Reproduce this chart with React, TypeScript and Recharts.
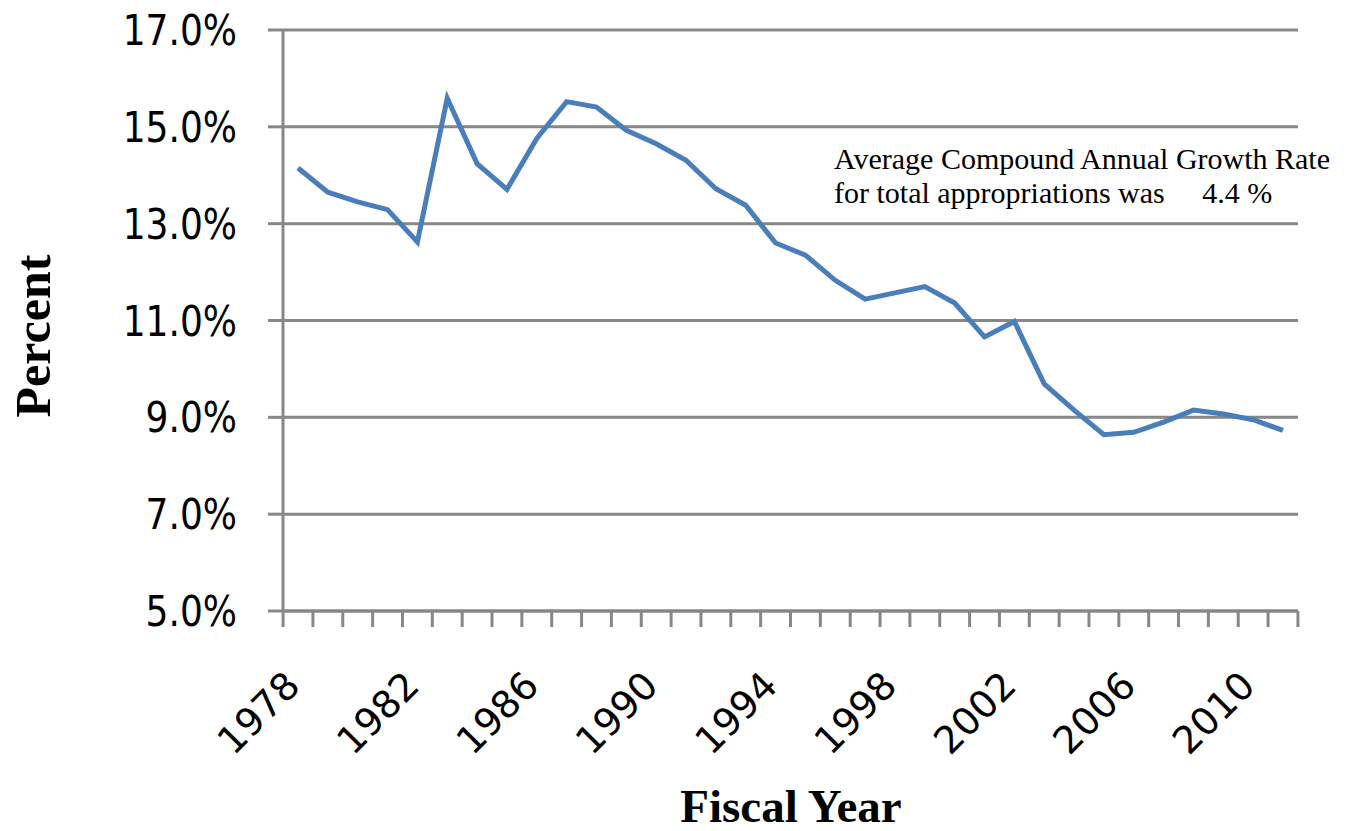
import { LineChart, Line, XAxis, YAxis, CartesianGrid } from "recharts";

const years = [
  "1978", "1979", "1980", "1981", "1982", "1983", "1984", "1985", "1986", "1987",
  "1988", "1989", "1990", "1991", "1992", "1993", "1994", "1995", "1996", "1997",
  "1998", "1999", "2000", "2001", "2002", "2003", "2004", "2005", "2006", "2007",
  "2008", "2009", "2010", "2011",
];
const percent = [
  14.15, 13.65, 13.45, 13.29, 12.62, 15.59, 14.24, 13.71, 14.76, 15.52,
  15.41, 14.93, 14.65, 14.31, 13.72, 13.38, 12.6, 12.35, 11.83, 11.44,
  11.57, 11.7, 11.36, 10.66, 10.98, 9.69, 9.15, 8.64, 8.69, 8.9,
  9.15, 9.07, 8.95, 8.73,
];
const yTicks = [5, 7, 9, 11, 13, 15, 17];
const noteLines = [
  "Average Compound Annual Growth Rate",
  "for total appropriations was     4.4 %",
];

const data = years.map((year, i) => ({ year, value: percent[i] }));

const W = 1369;
const H = 831;
const LEFT = 283;
const RIGHT = 71;
const PAD = 15;
const STEP = (W - LEFT - RIGHT - 2 * PAD) / (years.length - 1);
const GRAY = "#878787";
const SANS = "'DejaVu Sans', Verdana, sans-serif";
const SERIF = "'Liberation Serif', 'Times New Roman', serif";

// x axis: tick marks sit between the years, labels every 4th year
const YearTick = (props: any) => {
  const { x, y, payload, index } = props;
  const half = STEP / 2;
  const yr = Number(payload.value);
  const lx = x + 4;
  const ly = y + 77;
  return (
    <g>
      <line x1={x - half} x2={x - half} y1={y} y2={y + 16} stroke={GRAY} strokeWidth={3} />
      {index === years.length - 1 && (
        <line x1={x + half} x2={x + half} y1={y} y2={y + 16} stroke={GRAY} strokeWidth={3} />
      )}
      {(yr - 1978) % 4 === 0 && (
        <text
          x={lx}
          y={ly}
          transform={`rotate(-45, ${lx}, ${ly})`}
          textAnchor="end"
          fontSize={38}
          fontFamily={SANS}
          fill="#000"
        >
          {payload.value}
        </text>
      )}
    </g>
  );
};

const PctTick = (props: any) => {
  const { x, y, payload } = props;
  return (
    <text
      transform={`translate(${x}, ${y}) scale(1, 1.18)`}
      textAnchor="end"
      dominantBaseline="central"
      fontSize={36}
      fontFamily={SANS}
      fill="#000"
    >
      {Number(payload.value).toFixed(1) + "%"}
    </text>
  );
};

export default function App() {
  return (
    <div style={{ position: "absolute", left: 0, top: 0, width: W, height: H, background: "#fff" }}>
      <LineChart
        width={W}
        height={H}
        data={data}
        margin={{ top: 30, right: RIGHT, bottom: 0, left: 0 }}
      >
        <CartesianGrid vertical={false} stroke={GRAY} strokeWidth={3} />
        <XAxis
          dataKey="year"
          height={220}
          interval={0}
          padding={{ left: PAD, right: PAD }}
          tickLine={false}
          tickSize={0}
          tickMargin={0}
          axisLine={{ stroke: GRAY, strokeWidth: 3 }}
          tick={<YearTick />}
        />
        <YAxis
          width={LEFT}
          domain={[5, 17]}
          ticks={yTicks}
          interval={0}
          tickSize={15}
          tickMargin={31}
          axisLine={{ stroke: GRAY, strokeWidth: 3 }}
          tickLine={{ stroke: GRAY, strokeWidth: 3 }}
          tick={<PctTick />}
        />
        <Line
          type="linear"
          dataKey="value"
          stroke="#4a7ebb"
          strokeWidth={5}
          dot={false}
          isAnimationActive={false}
        />
        <text
          x={33}
          y={336}
          transform="rotate(-90, 33, 336)"
          textAnchor="middle"
          dominantBaseline="central"
          fontSize={50}
          fontWeight="bold"
          fontFamily={SERIF}
          fill="#000"
        >
          Percent
        </text>
        <text
          x={791}
          y={822}
          textAnchor="middle"
          fontSize={47}
          fontWeight="bold"
          fontFamily={SERIF}
          fill="#000"
        >
          Fiscal Year
        </text>
        {noteLines.map((t, i) => (
          <text
            key={i}
            x={834}
            y={169 + i * 34}
            fontSize={30}
            fontFamily={SERIF}
            fill="#000"
            style={{ whiteSpace: "pre" }}
          >
            {t}
          </text>
        ))}
      </LineChart>
    </div>
  );
}
